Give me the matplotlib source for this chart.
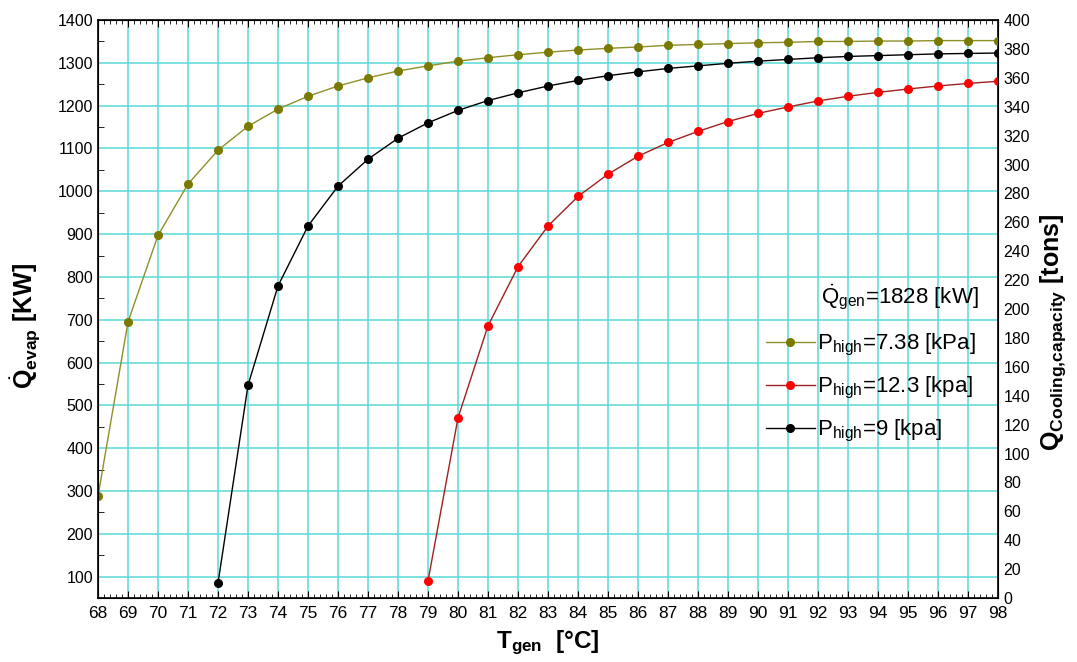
import numpy as np
import matplotlib
matplotlib.use("Agg")
from matplotlib import pyplot as plt
from matplotlib.ticker import MultipleLocator

plt.rcParams['font.family'] = ['Liberation Sans', 'DejaVu Sans']
plt.rcParams['mathtext.fontset'] = 'custom'
plt.rcParams['mathtext.rm'] = 'Liberation Sans'
plt.rcParams['mathtext.it'] = 'Liberation Sans:italic'
plt.rcParams['mathtext.bf'] = 'Liberation Sans:bold'

# data
t_low = list(range(68, 99))
q_low = [288, 695, 897, 1017, 1096, 1152, 1192, 1222, 1246, 1265, 1281, 1293,
         1304, 1312, 1319, 1325, 1330, 1334, 1337, 1341, 1343, 1345, 1347,
         1348, 1350, 1350, 1351, 1351, 1352, 1352, 1352]

t_mid = list(range(72, 99))
q_mid = [85, 547, 779, 919, 1012, 1075, 1124, 1160, 1189, 1212, 1230, 1246,
         1259, 1270, 1279, 1287, 1293, 1299, 1304, 1308, 1312, 1315, 1317,
         1319, 1321, 1322, 1323]

t_high = list(range(79, 99))
q_high = [90, 471, 686, 824, 919, 988, 1040, 1082, 1114, 1140, 1163, 1182,
          1197, 1211, 1222, 1231, 1239, 1246, 1252, 1257]

labels = [r'P$_{\mathrm{high}}$=7.38 [kPa]',
          r'P$_{\mathrm{high}}$=12.3 [kpa]',
          r'P$_{\mathrm{high}}$=9 [kpa]']

fig = plt.figure(figsize=(10.77, 6.62), dpi=100)
ax = fig.add_axes([0.091, 0.0967, 0.8357, 0.873])

grid_c = '#5ad8d8'
for x in range(69, 98):
    ax.axvline(x, color=grid_c, lw=1.1, zorder=0)
for y in range(100, 1400, 100):
    ax.axhline(y, color=grid_c, lw=1.1, zorder=0)

l1, = ax.plot(t_low, q_low, '-', color='#8f8f2a', lw=1, marker='o', ms=5.5,
              mfc='#7a7a00', mec='#7a7a00', label=labels[0], zorder=3)
l2, = ax.plot(t_high, q_high, '-', color='#a02020', lw=1, marker='o', ms=5.5,
              mfc='#ff0000', mec='#ff0000', label=labels[1], zorder=3)
l3, = ax.plot(t_mid, q_mid, '-', color='black', lw=1, marker='o', ms=5.5,
              mfc='black', mec='black', label=labels[2], zorder=3)

ax.set_xlim(68, 98)
ax.set_ylim(50, 1400)
ax.set_xticks(range(68, 99))
ax.xaxis.set_minor_locator(MultipleLocator(0.2))
ax.set_yticks(range(100, 1401, 100))
ax.yaxis.set_minor_locator(MultipleLocator(50))
ax.tick_params(axis='x', which='major', direction='in', length=5, labelsize=12.5,
               top=True, pad=6)
ax.tick_params(axis='x', which='minor', direction='in', length=3, top=True)
ax.tick_params(axis='y', which='major', direction='in', length=0, labelsize=11.5)
ax.tick_params(axis='y', which='minor', direction='in', length=4)
for s in ax.spines.values():
    s.set_linewidth(1.2)

ax.set_xlabel(r'$\mathbf{T_{gen}}$  [°C]', fontsize=17.5, fontweight='bold', labelpad=5)
ax.set_ylabel(r'$\dot{\mathbf{Q}}_{\mathbf{evap}}$ [KW]', fontsize=18,
              fontweight='bold')
ax.yaxis.set_label_coords(-0.062, 0.47)

ax2 = ax.twinx()
ax2.set_ylim(0, 400)
ax2.set_yticks(range(0, 401, 20))
ax2.tick_params(axis='y', direction='in', length=0, labelsize=11.5, pad=4)
ax2.set_ylabel(r'$\mathbf{Q_{Cooling{,}capacity}}$ [tons]', fontsize=18,
               fontweight='bold')
ax2.yaxis.set_label_coords(1.045, 0.46)

ax.text(0.978, 0.52, r'$\dot{\mathrm{Q}}_{\mathrm{gen}}$=1828 [kW]', transform=ax.transAxes,
        ha='right', va='center', fontsize=16)
ax.legend(handles=[l1, l2, l3], loc='upper right', bbox_to_anchor=(0.985, 0.475),
          frameon=False, fontsize=16, handlelength=2.2, handletextpad=0.1,
          labelspacing=0.75, borderaxespad=0)

fig.savefig('out.png', dpi=100)
